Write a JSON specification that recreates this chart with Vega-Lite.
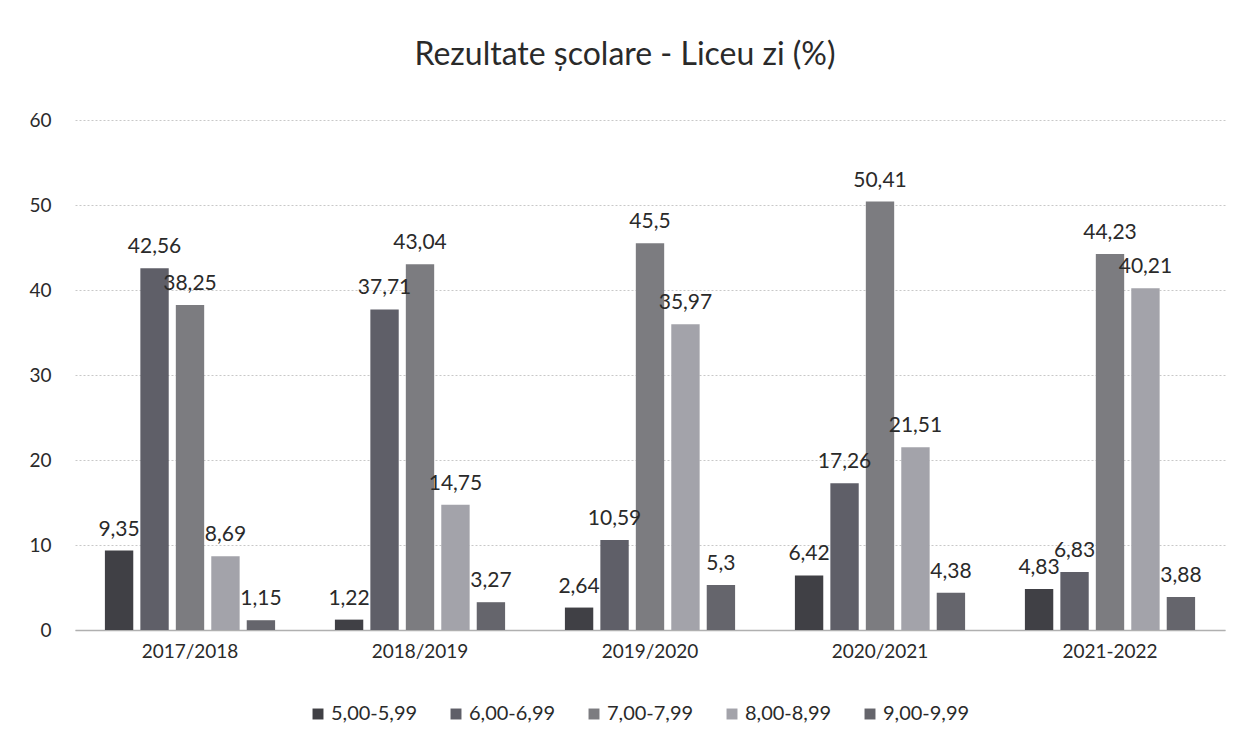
{
  "$schema": "https://vega.github.io/schema/vega-lite/v6.json",
  "width": 1150,
  "height": 510,
  "autosize": "none",
  "padding": {"left": 75, "top": 120, "right": 17, "bottom": 117},
  "background": "white",
  "config": {
    "locale": {"number": {"decimal": ",", "thousands": ".", "grouping": [3], "currency": ["", " €"]}},
    "font": "Lato",
    "view": {"stroke": null}
  },
  "title": {
    "text": "Rezultate școlare - Liceu zi (%)",
    "fontSize": 32,
    "fontWeight": "normal",
    "color": "#2a2a2a",
    "anchor": "middle",
    "dx": -25,
    "offset": 39,
    "font": "Lato"
  },
  "data": {
    "values": [
      {"an": "2017/2018", "interval": "5,00-5,99", "p": 9.35},
      {"an": "2017/2018", "interval": "6,00-6,99", "p": 42.56},
      {"an": "2017/2018", "interval": "7,00-7,99", "p": 38.25},
      {"an": "2017/2018", "interval": "8,00-8,99", "p": 8.69},
      {"an": "2017/2018", "interval": "9,00-9,99", "p": 1.15},
      {"an": "2018/2019", "interval": "5,00-5,99", "p": 1.22},
      {"an": "2018/2019", "interval": "6,00-6,99", "p": 37.71},
      {"an": "2018/2019", "interval": "7,00-7,99", "p": 43.04},
      {"an": "2018/2019", "interval": "8,00-8,99", "p": 14.75},
      {"an": "2018/2019", "interval": "9,00-9,99", "p": 3.27},
      {"an": "2019/2020", "interval": "5,00-5,99", "p": 2.64},
      {"an": "2019/2020", "interval": "6,00-6,99", "p": 10.59},
      {"an": "2019/2020", "interval": "7,00-7,99", "p": 45.5},
      {"an": "2019/2020", "interval": "8,00-8,99", "p": 35.97},
      {"an": "2019/2020", "interval": "9,00-9,99", "p": 5.3},
      {"an": "2020/2021", "interval": "5,00-5,99", "p": 6.42},
      {"an": "2020/2021", "interval": "6,00-6,99", "p": 17.26},
      {"an": "2020/2021", "interval": "7,00-7,99", "p": 50.41},
      {"an": "2020/2021", "interval": "8,00-8,99", "p": 21.51},
      {"an": "2020/2021", "interval": "9,00-9,99", "p": 4.38},
      {"an": "2021-2022", "interval": "5,00-5,99", "p": 4.83},
      {"an": "2021-2022", "interval": "6,00-6,99", "p": 6.83},
      {"an": "2021-2022", "interval": "7,00-7,99", "p": 44.23},
      {"an": "2021-2022", "interval": "8,00-8,99", "p": 40.21},
      {"an": "2021-2022", "interval": "9,00-9,99", "p": 3.88}
    ]
  },
  "encoding": {
    "x": {
      "field": "an", "type": "nominal", "sort": null,
      "scale": {"paddingInner": 0.26, "paddingOuter": 0.13},
      "axis": {"title": null, "labelAngle": 0, "labelFontSize": 19, "labelColor": "#2a2a2a", "labelPadding": 12, "ticks": false, "domainColor": "#b0b0b0", "domainWidth": 1.5}
    },
    "y": {
      "field": "p", "type": "quantitative",
      "scale": {"domain": [0, 60]},
      "axis": {"title": null, "values": [0, 10, 20, 30, 40, 50, 60], "labelFontSize": 19, "labelColor": "#2a2a2a", "labelPadding": 24, "ticks": false, "domain": false, "gridColor": "#c8c8c8", "gridDash": [2, 2]}
    },
    "xOffset": {"field": "interval", "type": "nominal", "scale": {"paddingInner": 0.2, "paddingOuter": 0}}
  },
  "layer": [
    {
      "mark": {"type": "bar"},
      "encoding": {
        "color": {
          "field": "interval", "type": "nominal",
          "scale": {"domain": ["5,00-5,99", "6,00-6,99", "7,00-7,99", "8,00-8,99", "9,00-9,99"], "range": ["#404045", "#5f5f68", "#7c7c80", "#a3a3aa", "#65656c"]},
          "legend": {
            "title": null, "orient": "none", "direction": "horizontal",
            "legendX": 233, "legendY": 584,
            "symbolType": "square", "symbolSize": 120, "symbolStrokeWidth": 0,
            "labelFontSize": 20, "labelColor": "#2a2a2a", "columnPadding": 28, "labelOffset": 3
          }
        }
      }
    },
    {
      "mark": {"type": "text", "baseline": "bottom", "dy": -11, "fontSize": 21, "color": "#2a2a2a"},
      "encoding": {
        "text": {"field": "p", "type": "quantitative", "format": "~r"}
      }
    }
  ]
}
